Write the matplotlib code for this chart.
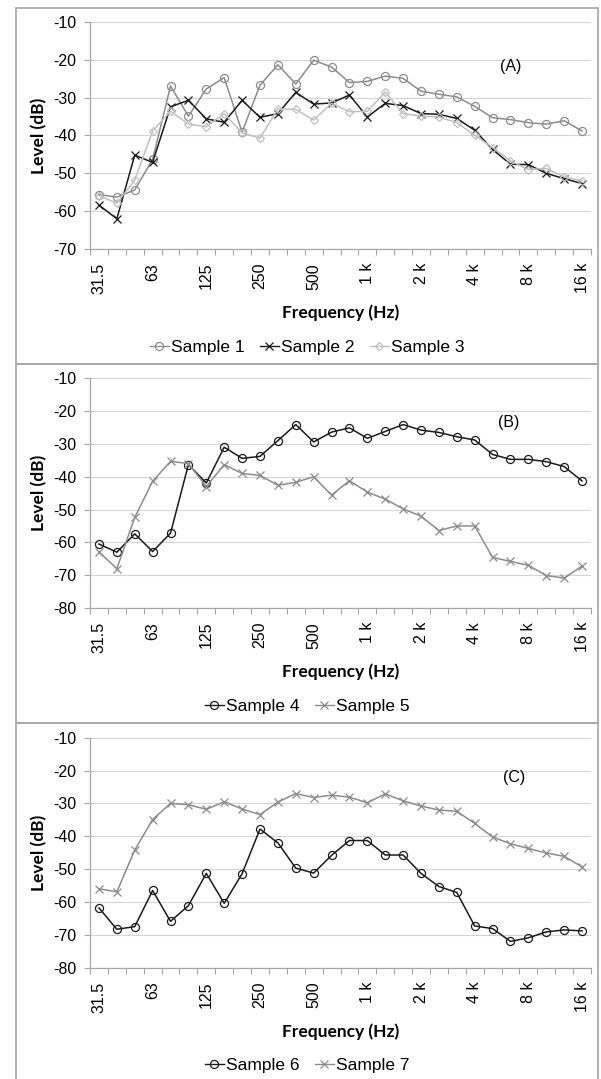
import matplotlib
matplotlib.use('Agg')
import matplotlib.pyplot as plt
from matplotlib.patches import Rectangle
from matplotlib.lines import Line2D

# third-octave bands, 31.5 Hz .. 16 kHz
bands = ['31.5', '40', '50', '63', '80', '100', '125', '160', '200', '250',
         '315', '400', '500', '630', '800', '1 k', '1.25 k', '1.6 k', '2 k',
         '2.5 k', '3.15 k', '4 k', '5 k', '6.3 k', '8 k', '10 k', '12.5 k', '16 k']

sample1 = [-55.6, -56.3, -54.4, -46.3, -26.9, -34.9, -27.7, -24.7, -39.1, -26.7,
           -21.3, -26.4, -20.1, -21.9, -26.0, -25.7, -24.3, -24.9, -28.3, -29.1,
           -29.8, -32.3, -35.3, -35.8, -36.6, -37.0, -36.1, -38.8]
sample2 = [-58.4, -62.0, -45.2, -47.1, -32.4, -30.7, -35.6, -36.5, -30.7, -35.2,
           -34.2, -28.6, -31.7, -31.4, -29.3, -35.1, -31.5, -32.1, -34.2, -34.4,
           -35.5, -38.6, -43.7, -47.6, -47.7, -50.0, -51.4, -52.7]
sample3 = [-55.9, -57.9, -51.8, -38.8, -33.6, -37.0, -37.7, -34.2, -39.3, -40.7,
           -33.0, -33.1, -35.9, -31.5, -33.7, -33.6, -28.5, -34.2, -34.9, -35.1,
           -36.6, -39.9, -43.2, -46.7, -49.0, -48.7, -50.9, -52.0]
sample4 = [-60.5, -63.0, -57.4, -62.8, -57.2, -36.3, -41.9, -31.0, -34.4, -33.8,
           -29.0, -24.1, -29.4, -26.4, -25.1, -28.3, -26.2, -24.1, -25.8, -26.5,
           -27.8, -28.8, -33.2, -34.7, -34.7, -35.4, -36.9, -41.3]
sample5 = [-62.9, -68.0, -52.4, -41.4, -35.3, -36.0, -43.0, -36.3, -39.0, -39.6,
           -42.6, -41.7, -40.0, -45.6, -41.2, -44.7, -46.8, -49.8, -52.0, -56.4,
           -55.0, -55.0, -64.6, -65.8, -67.0, -70.1, -70.9, -67.2]
sample6 = [-61.8, -68.3, -67.5, -56.5, -65.9, -61.1, -51.3, -60.4, -51.4, -37.8,
           -42.0, -49.7, -51.2, -45.8, -41.3, -41.3, -45.7, -45.7, -51.3, -55.3,
           -57.1, -67.3, -68.1, -72.0, -70.9, -69.1, -68.5, -68.8]
sample7 = [-56.0, -56.9, -44.2, -34.9, -30.0, -30.4, -31.8, -29.5, -31.7, -33.4,
           -29.6, -27.0, -28.2, -27.5, -28.1, -29.8, -27.1, -29.2, -30.8, -32.0,
           -32.4, -36.1, -40.2, -42.3, -43.7, -45.1, -46.1, -49.3]

W, H = 601, 1079
fig = plt.figure(figsize=(W / 100, H / 100), dpi=100)
fig.patch.set_facecolor('white')

tick_font = 'Liberation Sans'
label_font = ['Lato', 'DejaVu Sans']

# style per series: (colour, marker, marker face)
styles = {
    'Sample 1': ('#8c8c8c', 'o', 'none'),
    'Sample 2': ('#1a1a1a', 'x', 'none'),
    'Sample 3': ('#c0c0c0', 'D', 'none'),
    'Sample 4': ('#1a1a1a', 'o', 'none'),
    'Sample 5': ('#8c8c8c', 'x', 'none'),
    'Sample 6': ('#1a1a1a', 'o', 'none'),
    'Sample 7': ('#8c8c8c', 'x', 'none'),
}

panels = [
    # frame top/bottom, axes top/bottom, ymin, tag, series
    (8, 364, 22, 249, -70, '(A)', (23.0, -21.8),
     [('Sample 1', sample1), ('Sample 2', sample2), ('Sample 3', sample3)]),
    (364, 723, 378.3, 608, -80, '(B)', (22.9, -23.6),
     [('Sample 4', sample4), ('Sample 5', sample5)]),
    (723, 1082, 737.7, 967.7, -80, '(C)', (23.2, -22.2),
     [('Sample 6', sample6), ('Sample 7', sample7)]),
]

ax_left, ax_right = 90, 591
x = list(range(len(bands)))


def marker_size(m):
    return 4.2 if m == 'D' else (5.8 if m == 'o' else 5.2)


for ftop, fbot, atop, abot, ymin, tag, tagpos, series in panels:
    # grey frame around each panel
    fig.patches.append(Rectangle((16 / W, 1 - fbot / H), (598 - 16) / W, (fbot - ftop) / H,
                                 transform=fig.transFigure, fill=False,
                                 edgecolor='#a6a6a6', linewidth=1.2))

    ax = fig.add_axes([ax_left / W, 1 - abot / H, (ax_right - ax_left) / W, (abot - atop) / H])
    ax.set_facecolor('none')
    for name, vals in series:
        c, m, mf = styles[name]
        ax.plot(x, vals, color=c, marker=m, markerfacecolor=mf, markeredgecolor=c,
                markersize=marker_size(m), linewidth=1.1, markeredgewidth=0.9, label=name)

    ax.set_xlim(-0.5, len(bands) - 0.5)
    ax.set_ylim(ymin, -10)
    ax.set_yticks(range(ymin, -9, 10))
    ax.set_yticklabels([str(v) for v in range(ymin, -9, 10)], fontsize=11.5, family=tick_font)
    ax.set_xticks(x[::3])
    ax.set_xticklabels(bands[::3], rotation=90, fontsize=11.5, family=tick_font)
    ax.set_xticks([i - 0.5 for i in range(len(bands) + 1)], minor=True)
    ax.tick_params(axis='x', which='major', length=0, pad=10)
    ax.tick_params(axis='x', which='minor', length=4, color='#a6a6a6', width=0.8)
    ax.tick_params(axis='y', length=4, color='#a6a6a6', width=0.8, pad=6)
    ax.grid(axis='y', color='#d4d4d4', linewidth=0.8)
    ax.set_axisbelow(True)
    for s in ['top', 'right']:
        ax.spines[s].set_visible(False)
    for s in ['left', 'bottom']:
        ax.spines[s].set_color('#a6a6a6')
        ax.spines[s].set_linewidth(0.9)

    ax.text(tagpos[0], tagpos[1], tag, fontsize=11.5, family=tick_font,
            ha='center', va='center')

    fig.text(39 / W, 1 - (atop + abot) / 2 / H, 'Level (dB)', rotation=90,
             fontsize=12.5, fontweight='bold', family=label_font, ha='center', va='center')
    fig.text((ax_left + ax_right) / 2 / W, 1 - (abot + 64) / H, 'Frequency (Hz)',
             fontsize=12.5, fontweight='bold', family=label_font, ha='center', va='center')

    handles = []
    for name, vals in series:
        c, m, mf = styles[name]
        handles.append(Line2D([], [], color=c, marker=m, markerfacecolor=mf,
                              markeredgecolor=c, markersize=marker_size(m), linewidth=1.0,
                              markeredgewidth=0.9, label=name))
    fig.legend(handles=handles, loc='center', ncol=len(handles),
               bbox_to_anchor=(307 / W, 1 - (abot + 98) / H), frameon=False,
               prop={'family': tick_font, 'size': 12.5}, handlelength=1.1,
               handletextpad=0.1, columnspacing=0.9, borderpad=0)

fig.savefig('out.png', dpi=100)
